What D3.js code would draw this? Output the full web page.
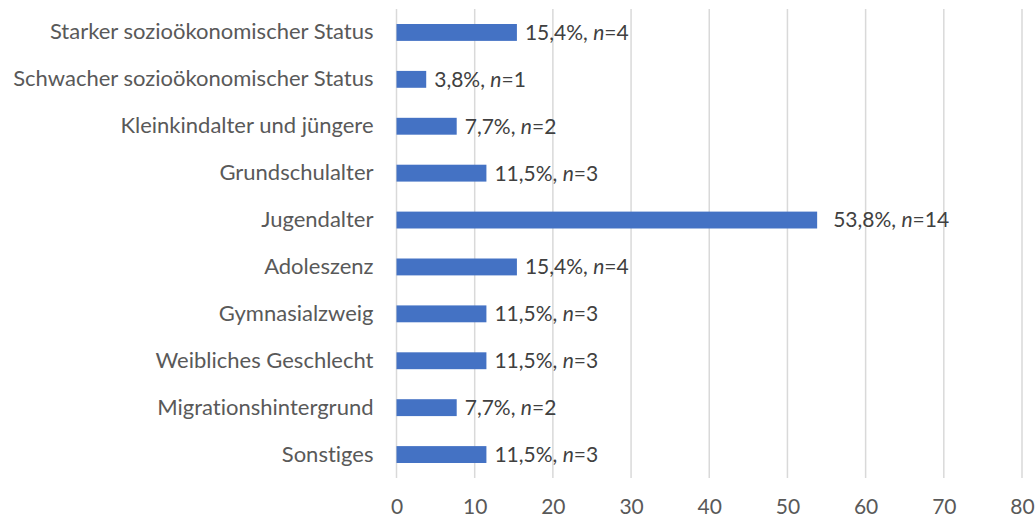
<!DOCTYPE html>
<html lang="de">
<head>
<meta charset="utf-8">
<title>Balkendiagramm</title>
<script src="https://cdn.jsdelivr.net/npm/d3@7"></script>
<style>
body { margin: 0; background: #fff; }
text { font-family: Lato, "Open Sans", sans-serif; font-variant-ligatures: none; }
</style>
</head>
<body>
<script>
// data
var categories = ["Starker sozioökonomischer Status", "Schwacher sozioökonomischer Status",
    "Kleinkindalter und jüngere", "Grundschulalter", "Jugendalter", "Adoleszenz",
    "Gymnasialzweig", "Weibliches Geschlecht", "Migrationshintergrund", "Sonstiges"];
var percents = [15.4, 3.8, 7.7, 11.5, 53.8, 15.4, 11.5, 11.5, 7.7, 11.5];
var counts = [4, 1, 2, 3, 14, 4, 3, 3, 2, 3];
var xTicks = [0, 10, 20, 30, 40, 50, 60, 70, 80];

var w = 1036, h = 520;
var plotLeft = 396.5, plotRight = 1022, plotTop = 9, plotBottom = 478;
var fontSize = "21px";

var svg = d3.select("body").append("svg")
    .attr("width", w)
    .attr("height", h);

var x = d3.scaleLinear().domain([0, 80]).range([plotLeft, plotRight]);
var y = d3.scaleBand().domain(categories).range([plotTop, plotBottom]).paddingInner(0.64).paddingOuter(0.32);

// gridlines
svg.selectAll("line.grid")
    .data(xTicks)
    .enter()
    .append("line")
    .attr("class", "grid")
    .attr("x1", function(d) { return x(d); })
    .attr("x2", function(d) { return x(d); })
    .attr("y1", plotTop)
    .attr("y2", plotBottom)
    .attr("stroke", "#d9d9d9")
    .attr("stroke-width", 1.5);

// x axis labels
var xAxis = d3.axisBottom(x).tickValues(xTicks).tickSize(0).tickPadding(21);
var gx = svg.append("g")
    .attr("transform", "translate(0," + plotBottom + ")")
    .call(xAxis);
gx.select(".domain").remove();
gx.selectAll("text")
    .attr("fill", "#595959")
    .style("font-size", fontSize)
    .style("font-family", "Lato, sans-serif");

// category labels
var yAxis = d3.axisLeft(y).tickSize(0).tickPadding(23);
var gy = svg.append("g")
    .attr("transform", "translate(" + plotLeft + ",0)")
    .call(yAxis);
gy.select(".domain").remove();
gy.selectAll("text")
    .attr("fill", "#595959")
    .style("font-size", "22px")
    .style("font-family", "Lato, sans-serif");

// bars
svg.selectAll("rect.bar")
    .data(percents)
    .enter()
    .append("rect")
    .attr("class", "bar")
    .attr("x", x(0))
    .attr("y", function(d, i) { return y(categories[i]); })
    .attr("width", function(d) { return x(d) - x(0); })
    .attr("height", y.bandwidth())
    .attr("fill", "#4472c4");

// value labels
var labels = svg.selectAll("text.val")
    .data(percents)
    .enter()
    .append("text")
    .attr("class", "val")
    .attr("x", function(d) { return x(d) + (d > 50 ? 16 : 8); })
    .attr("y", function(d, i) { return y(categories[i]) + y.bandwidth() / 2; })
    .attr("dy", "0.35em")
    .attr("fill", "#404040")
    .style("font-size", fontSize);

labels.append("tspan").text(function(d) { return d3.format(".1f")(d).replace(".", ",") + "%, "; });
labels.append("tspan").style("font-style", "italic").text("n");
labels.append("tspan").text(function(d, i) { return "=" + counts[i]; });
</script>
</body>
</html>
